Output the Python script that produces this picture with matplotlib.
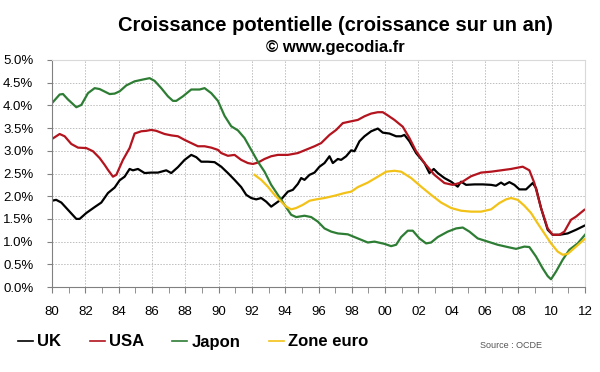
import matplotlib

matplotlib.use("Agg")
import matplotlib.pyplot as plt
from matplotlib.ticker import FuncFormatter, MultipleLocator

plt.rcParams["font.family"] = ["Liberation Sans", "DejaVu Sans"]

uk_years = [1980.0, 1980.25, 1980.56, 1980.96, 1981.46, 1981.66, 1982.06, 1982.56, 1982.96,
            1983.36, 1983.76, 1984.06, 1984.36, 1984.66, 1984.86, 1985.16, 1985.56, 1985.96,
            1986.36, 1986.86, 1987.16, 1987.56, 1987.96, 1988.36, 1988.66, 1988.96, 1989.36,
            1989.76, 1990.16, 1990.56, 1990.96, 1991.36, 1991.66, 1991.96, 1992.26, 1992.56,
            1992.86, 1993.16, 1993.46, 1993.76, 1994.16, 1994.46, 1994.76, 1994.96, 1995.16,
            1995.46, 1995.76, 1996.06, 1996.36, 1996.66, 1996.86, 1997.16, 1997.36, 1997.66,
            1997.96, 1998.16, 1998.46, 1998.76, 1999.16, 1999.56, 1999.86, 2000.26, 2000.66,
            2000.96, 2001.16, 2001.46,
            2001.86, 2002.36, 2002.66, 2002.92, 2003.16, 2003.56, 2003.96, 2004.36, 2004.56,
            2004.86, 2005.36, 2005.86, 2006.36, 2006.66, 2006.96, 2007.16, 2007.46, 2007.76,
            2008.06, 2008.46, 2008.86, 2009.06, 2009.36, 2009.76, 2010.06, 2010.46, 2010.96,
            2011.46, 2011.96]
uk = [1.90, 1.92, 1.86, 1.70, 1.50, 1.50, 1.63, 1.76, 1.86,
      2.07, 2.19, 2.35, 2.43, 2.60, 2.57, 2.60, 2.51, 2.52,
      2.52, 2.57, 2.51, 2.64, 2.80, 2.91, 2.86, 2.76, 2.76,
      2.75, 2.65, 2.51, 2.36, 2.20, 2.03, 1.96, 1.93, 1.96,
      1.88, 1.77, 1.85, 1.93, 2.10, 2.14, 2.27, 2.40, 2.36,
      2.47, 2.52, 2.65, 2.73, 2.88, 2.73, 2.82, 2.80, 2.88,
      3.01, 2.99, 3.21, 3.32, 3.43, 3.49, 3.40, 3.38, 3.32,
      3.32, 3.35, 3.21,
      2.95, 2.73, 2.51, 2.60, 2.51, 2.40, 2.32, 2.21, 2.32,
      2.25, 2.26, 2.26, 2.25, 2.23, 2.30, 2.25, 2.31, 2.25,
      2.15, 2.15, 2.29, 2.18, 1.74, 1.26, 1.15, 1.15, 1.18,
      1.26, 1.35]

usa_years = [1980.0, 1980.46, 1980.76, 1981.16, 1981.56, 1982.06, 1982.46, 1982.86, 1983.16,
             1983.36, 1983.66, 1983.86, 1984.26, 1984.66, 1984.96, 1985.36, 1985.66, 1985.96,
             1986.26, 1986.76, 1987.16, 1987.56, 1987.96, 1988.36, 1988.76, 1989.16, 1989.56,
             1989.96, 1990.16, 1990.56, 1990.96, 1991.36, 1991.76, 1992.06, 1992.36, 1992.76,
             1993.16, 1993.56, 1994.16, 1994.76, 1995.16, 1995.76, 1996.16, 1996.66, 1997.06,
             1997.46, 1997.96, 1998.36, 1998.76, 1999.16, 1999.56, 1999.86, 2000.16, 2000.56,
             2001.06, 2001.46, 2001.86, 2002.36, 2002.96, 2003.56, 2004.06, 2004.56, 2005.16,
             2005.76, 2006.36, 2006.96, 2007.56, 2008.26, 2008.66, 2008.96, 2009.36, 2009.76,
             2010.06, 2010.46, 2010.76, 2011.16, 2011.46, 2011.96]
usa = [3.26, 3.37, 3.32, 3.15, 3.07, 3.06, 2.99, 2.84, 2.69,
       2.58, 2.43, 2.47, 2.80, 3.06, 3.38, 3.43, 3.44, 3.46,
       3.44, 3.37, 3.34, 3.32, 3.24, 3.17, 3.10, 3.10, 3.07,
       3.02, 2.95, 2.89, 2.91, 2.80, 2.73, 2.71, 2.74, 2.82,
       2.88, 2.91, 2.91, 2.95, 3.01, 3.10, 3.17, 3.35, 3.46,
       3.61, 3.65, 3.68, 3.76, 3.82, 3.85, 3.85, 3.78, 3.68,
       3.53, 3.28, 2.99, 2.73, 2.47, 2.29, 2.25, 2.30, 2.44,
       2.52, 2.54, 2.57, 2.60, 2.65, 2.57, 2.29, 1.74, 1.29,
       1.15, 1.15, 1.22, 1.48, 1.55, 1.70]

japon_years = [1980.0, 1980.46, 1980.66, 1980.96, 1981.46, 1981.76, 1982.16, 1982.56, 1982.86,
               1983.46, 1983.76, 1984.06, 1984.46, 1984.96, 1985.46, 1985.86, 1986.16, 1986.56,
               1986.96, 1987.26, 1987.46, 1987.86, 1988.36, 1988.86, 1989.16, 1989.56, 1989.96,
               1990.36, 1990.76, 1991.16, 1991.56, 1991.96, 1992.36, 1992.76, 1993.16, 1993.56,
               1993.96, 1994.36, 1994.66, 1995.16, 1995.56, 1995.96, 1996.36, 1996.76, 1997.16,
               1997.76, 1998.36, 1998.96, 1999.36, 1999.96, 2000.36, 2000.66, 2000.96, 2001.36,
               2001.66, 2002.06, 2002.46, 2002.76, 2003.16, 2003.76, 2004.26, 2004.66, 2005.06,
               2005.56, 2006.16, 2006.76, 2007.36, 2007.86, 2008.36, 2008.66, 2009.06, 2009.46,
               2009.76, 2009.96, 2010.26, 2010.66, 2011.06, 2011.56, 2012.0]
japon = [4.05, 4.24, 4.25, 4.13, 3.96, 4.01, 4.27, 4.38, 4.36,
         4.25, 4.26, 4.31, 4.44, 4.53, 4.57, 4.60, 4.54, 4.38,
         4.20, 4.10, 4.10, 4.20, 4.35, 4.35, 4.38, 4.27, 4.10,
         3.77, 3.54, 3.45, 3.28, 3.02, 2.76, 2.54, 2.25, 2.03,
         1.81, 1.59, 1.54, 1.57, 1.54, 1.44, 1.29, 1.22, 1.18,
         1.16, 1.07, 0.98, 1.00, 0.95, 0.90, 0.93, 1.10, 1.24,
         1.24, 1.07, 0.96, 0.98, 1.10, 1.22, 1.29, 1.31, 1.22,
         1.07, 1.00, 0.93, 0.88, 0.84, 0.89, 0.88, 0.67, 0.41,
         0.24, 0.17, 0.34, 0.60, 0.82, 0.96, 1.15]

euro_years = [1992.16, 1992.56, 1992.96, 1993.36, 1993.76, 1994.06, 1994.36, 1994.66, 1995.06,
              1995.46, 1995.86, 1996.36, 1996.96, 1997.56, 1997.96, 1998.36, 1998.96, 1999.56,
              2000.06, 2000.56, 2000.96, 2001.56, 2002.16, 2002.76, 2003.36, 2003.96, 2004.56,
              2005.16, 2005.76, 2006.36, 2006.86, 2007.26, 2007.56, 2007.96, 2008.36, 2008.76,
              2009.16, 2009.56, 2009.96, 2010.36, 2010.66, 2010.96, 2011.46, 2011.96]
euro = [2.47, 2.36, 2.21, 2.03, 1.88, 1.77, 1.71, 1.74, 1.81,
        1.90, 1.93, 1.96, 2.01, 2.07, 2.10, 2.20, 2.30, 2.43,
        2.54, 2.56, 2.54, 2.40, 2.21, 2.03, 1.86, 1.74, 1.68,
        1.66, 1.66, 1.71, 1.85, 1.93, 1.96, 1.92, 1.79, 1.63,
        1.40, 1.18, 0.96, 0.78, 0.71, 0.73, 0.89, 1.05]

series = [
    ("UK", uk_years, uk, "#000000"),
    ("USA", usa_years, usa, "#B3141E"),
    ("Japon", japon_years, japon, "#2E7D34"),
    ("Zone euro", euro_years, euro, "#F2C218"),
]

fig = plt.figure(figsize=(6, 3.72), dpi=100)
ax = fig.add_axes([52 / 600, 1 - 287 / 372, 533 / 600, 227 / 372])

for name, xs, ys, col in series:
    ax.plot(xs, ys, color=col, lw=1.6, label=name, solid_joinstyle="round")

ax.set_xlim(1980, 2012)
ax.set_ylim(0, 5)
ax.xaxis.set_major_locator(MultipleLocator(2))
ax.xaxis.set_minor_locator(MultipleLocator(1))
ax.yaxis.set_major_locator(MultipleLocator(0.5))
ax.xaxis.set_major_formatter(FuncFormatter(lambda v, _: f"{int(round(v)) % 100:02d}"))
ax.yaxis.set_major_formatter(FuncFormatter(lambda v, _: f"{v:.1f}%"))

ax.grid(True, which="major", color="#BDBDBD", ls=(0, (1.5, 1.5)), lw=0.7)
ax.set_axisbelow(True)
for side in ("top", "right"):
    ax.spines[side].set_color("#D9D9D9")
for side in ("left", "bottom"):
    ax.spines[side].set_color("#808080")
ax.tick_params(axis="x", which="both", direction="out", length=4, color="#808080",
               labelsize=9.5, pad=10)
ax.tick_params(axis="y", direction="out", length=3.5, color="#808080",
               labelsize=9.5, pad=10)

fig.text(335 / 600, 1 - 31 / 372, "Croissance potentielle (croissance sur un an)",
         ha="center", va="baseline", fontsize=14.5, weight="bold")
fig.text(335 / 600, 1 - 52 / 372, "\u00a9 www.gecodia.fr",
         ha="center", va="baseline", fontsize=12, weight="bold")

leg = ax.legend(loc="center left", bbox_to_anchor=(18 / 600, 1 - 342 / 372),
                bbox_transform=fig.transFigure, ncol=4, frameon=False,
                prop={"weight": "bold", "size": 12}, handlelength=0.9,
                handletextpad=0.25, columnspacing=1.7, borderpad=0, borderaxespad=0)
for h in leg.get_lines():
    h.set_linewidth(1.2)

fig.text(480 / 600, 1 - 345 / 372, "Source : OCDE", fontsize=6.5, color="#555555",
         va="center")

fig.savefig("out.png", dpi=100)
